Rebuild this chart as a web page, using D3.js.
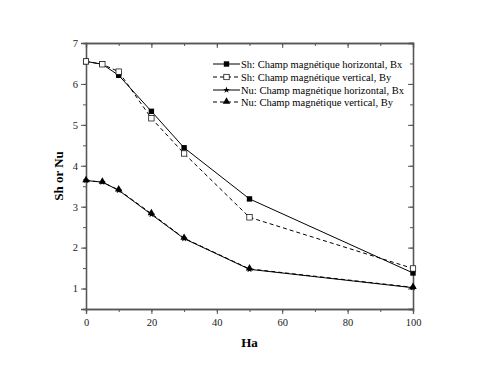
<!DOCTYPE html>
<html>
<head>
<meta charset="utf-8">
<script src="https://cdn.jsdelivr.net/npm/d3@7"></script>
<style>
  body { margin: 0; background: #fff; }
  text { font-family: "Liberation Serif", "DejaVu Serif", serif; }
</style>
</head>
<body>
<script>
// data
var haValues   = [0, 5, 10, 20, 30, 50, 100];
var shBx       = [6.55, 6.48, 6.21, 5.33, 4.44, 3.19, 1.38];
var shBy       = [6.55, 6.48, 6.30, 5.16, 4.30, 2.74, 1.49];
var nuBx       = [3.64, 3.60, 3.40, 2.81, 2.22, 1.47, 1.02];
var nuBy       = [3.64, 3.60, 3.41, 2.83, 2.23, 1.48, 1.03];
var seriesNames = ["Sh: Champ magnétique horizontal, Bx",
                   "Sh: Champ magnétique vertical, By",
                   "Nu: Champ magnétique horizontal, Bx",
                   "Nu: Champ magnétique vertical, By"];
var xTicks = [0, 20, 40, 60, 80, 100];
var yTicks = [1, 2, 3, 4, 5, 6, 7];

var w = 480, h = 371;
var margin = {left: 86, right: 67, top: 43, bottom: 62};

var svg = d3.select("body").append("svg")
    .attr("width", w)
    .attr("height", h);

var x = d3.scaleLinear().domain([0, 100]).range([margin.left, w - margin.right]);
var y = d3.scaleLinear().domain([0.5, 7]).range([h - margin.bottom, margin.top]);

var axisColor = "#555";

// frame + ticks
function styleAxis(g) {
  g.attr("font-family", null);
  g.select(".domain").attr("stroke", axisColor).attr("stroke-width", 1.3);
  g.selectAll(".tick line").attr("stroke", axisColor);
  g.selectAll(".tick text")
    .style("font-family", "'Liberation Serif', serif")
    .style("font-size", "10.5px")
    .attr("fill", "#222");
}

var minorX = d3.range(0, 101, 10);
var minorY = d3.range(0.5, 7.01, 0.5);

// minor ticks first
svg.append("g").attr("transform", "translate(0," + (h - margin.bottom) + ")")
    .call(d3.axisBottom(x).tickValues(minorX).tickSize(3).tickFormat(""))
    .call(styleAxis);
svg.append("g").attr("transform", "translate(" + margin.left + ",0)")
    .call(d3.axisLeft(y).tickValues(minorY).tickSize(3).tickFormat(""))
    .call(styleAxis);
svg.append("g").attr("transform", "translate(0," + margin.top + ")")
    .call(d3.axisTop(x).tickValues(minorX).tickSize(-3).tickFormat(""))
    .call(styleAxis);
svg.append("g").attr("transform", "translate(" + (w - margin.right) + ",0)")
    .call(d3.axisRight(y).tickValues(minorY).tickSize(-3).tickFormat(""))
    .call(styleAxis);

// major ticks
svg.append("g").attr("transform", "translate(0," + (h - margin.bottom) + ")")
    .call(d3.axisBottom(x).tickValues(xTicks).tickSize(5).tickPadding(5).tickFormat(d3.format("d")))
    .call(styleAxis);
svg.append("g").attr("transform", "translate(" + margin.left + ",0)")
    .call(d3.axisLeft(y).tickValues(yTicks).tickSize(5).tickPadding(3).tickFormat(d3.format("d")))
    .call(styleAxis);
svg.append("g").attr("transform", "translate(0," + margin.top + ")")
    .call(d3.axisTop(x).tickValues(xTicks).tickSize(-5).tickFormat(""))
    .call(styleAxis);
svg.append("g").attr("transform", "translate(" + (w - margin.right) + ",0)")
    .call(d3.axisRight(y).tickValues(yTicks).tickSize(-5).tickFormat(""))
    .call(styleAxis);

// axis titles
svg.append("text")
    .attr("x", (margin.left + w - margin.right) / 2)
    .attr("y", 347)
    .attr("text-anchor", "middle")
    .attr("font-size", "13px")
    .attr("font-weight", "bold")
    .text("Ha");

svg.append("text")
    .attr("transform", "translate(63," + ((margin.top + h - margin.bottom) / 2) + ") rotate(-90)")
    .attr("text-anchor", "middle")
    .attr("font-size", "13px")
    .attr("font-weight", "bold")
    .text("Sh or Nu");

var series = [
  {vals: shBx, dash: null,  marker: "fsquare"},
  {vals: shBy, dash: "4,3", marker: "osquare"},
  {vals: nuBx, dash: null,  marker: "star"},
  {vals: nuBy, dash: "4,3", marker: "triangle"}
];

var line = d3.line()
    .x(function(d) { return x(d[0]); })
    .y(function(d) { return y(d[1]); });

function drawMarker(g, kind, px, py) {
  if (kind == "fsquare") {
    g.append("rect").attr("x", px - 2.7).attr("y", py - 2.7).attr("width", 5.4).attr("height", 5.4).attr("fill", "#000");
  } else if (kind == "osquare") {
    g.append("rect").attr("x", px - 2.7).attr("y", py - 2.7).attr("width", 5.4).attr("height", 5.4)
      .attr("fill", "#fff").attr("stroke", "#000").attr("stroke-width", 0.7);
  } else if (kind == "star") {
    g.append("path").attr("d", d3.symbol().type(d3.symbolStar).size(14)())
      .attr("transform", "translate(" + px + "," + py + ")").attr("fill", "#000");
  } else {
    g.append("path").attr("d", d3.symbol().type(d3.symbolTriangle).size(24)())
      .attr("transform", "translate(" + px + "," + (py - 0.5) + ")").attr("fill", "#000");
  }
}

var plot = svg.append("g");
series.forEach(function(s) {
  var pts = haValues.map(function(v, i) { return [v, s.vals[i]]; });
  plot.append("path")
      .datum(pts)
      .attr("d", line)
      .attr("fill", "none")
      .attr("stroke", "#000")
      .attr("stroke-width", 1)
      .attr("stroke-dasharray", s.dash);
});
series.forEach(function(s) {
  haValues.forEach(function(v, i) {
    drawMarker(plot, s.marker, x(v), y(s.vals[i]));
  });
});

// legend
var legend = svg.append("g");
var legY = [64, 77, 90, 102];
series.forEach(function(s, i) {
  legend.append("line")
      .attr("x1", 213).attr("x2", 240)
      .attr("y1", legY[i]).attr("y2", legY[i])
      .attr("stroke", "#000")
      .attr("stroke-dasharray", s.dash);
  drawMarker(legend, s.marker, 226.5, legY[i]);
  legend.append("text")
      .attr("x", 241)
      .attr("y", legY[i] + 3.5)
      .attr("font-size", "10.5px")
      .text(seriesNames[i]);
});
</script>
</body>
</html>
